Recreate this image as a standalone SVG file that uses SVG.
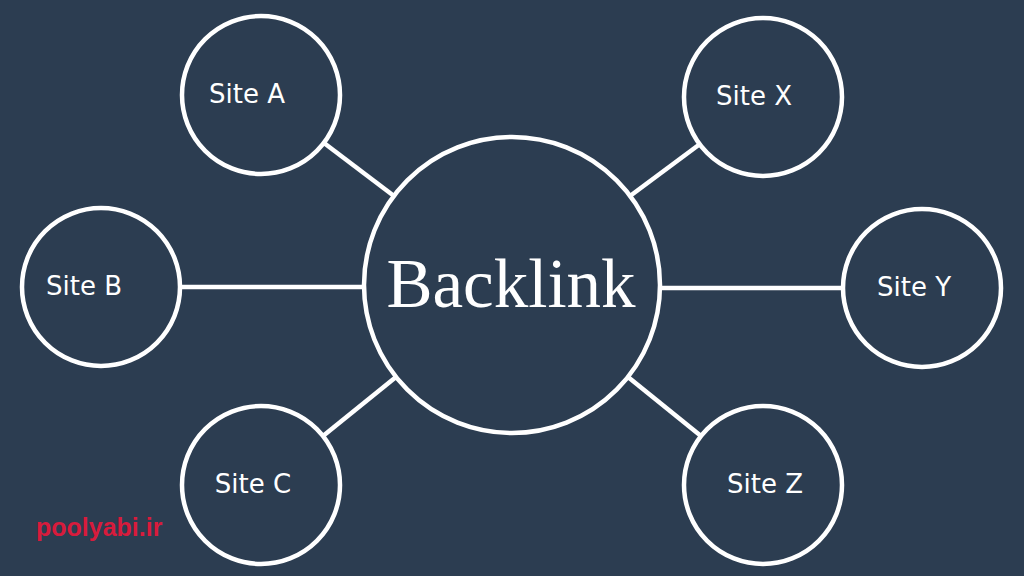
<svg xmlns="http://www.w3.org/2000/svg" width="1024" height="576" viewBox="0 0 1024 576">
<style>
.bg{fill:#2c3d51}
.node circle{fill:#2c3d51;stroke:#ffffff;stroke-width:4.5}
.lbl{font-family:"DejaVu Sans","Liberation Sans",sans-serif;font-size:26px;fill:#ffffff;text-anchor:middle}
.main{font-family:"Liberation Serif","DejaVu Serif",serif;font-size:69px;fill:#ffffff;text-anchor:middle}
#connectors line{stroke:#ffffff;stroke-width:4.5}
.wm{font-family:"Liberation Sans","DejaVu Sans",sans-serif;font-weight:bold;font-size:25px;fill:#d81b3c}
</style>
<rect class="bg" x="0" y="0" width="1024" height="576"/>
<g id="connectors">
<line x1="394" y1="196" x2="324" y2="143"/>
<line x1="364" y1="287" x2="180" y2="287"/>
<line x1="396" y1="377" x2="323" y2="436"/>
<line x1="630" y1="196" x2="700" y2="144"/>
<line x1="660" y1="288" x2="843" y2="288"/>
<line x1="628" y1="377" x2="701" y2="436"/>
</g>
<g id="backlink" class="node"><circle cx="512" cy="285" r="148"/><text class="main" x="511" y="307">Backlink</text></g>
<g id="siteA" class="node"><circle cx="261" cy="95" r="79"/><text class="lbl" x="247" y="103">Site A</text></g>
<g id="siteB" class="node"><circle cx="101" cy="287" r="79"/><text class="lbl" x="84" y="295">Site B</text></g>
<g id="siteC" class="node"><circle cx="261" cy="485" r="79"/><text class="lbl" x="253" y="493">Site C</text></g>
<g id="siteX" class="node"><circle cx="763" cy="97" r="79"/><text class="lbl" x="754" y="105">Site X</text></g>
<g id="siteY" class="node"><circle cx="922" cy="288" r="79"/><text class="lbl" x="914" y="296">Site Y</text></g>
<g id="siteZ" class="node"><circle cx="763" cy="485" r="79"/><text class="lbl" x="765" y="493">Site Z</text></g>
<text class="wm" x="36" y="536">poolyabi.ir</text>
</svg>
